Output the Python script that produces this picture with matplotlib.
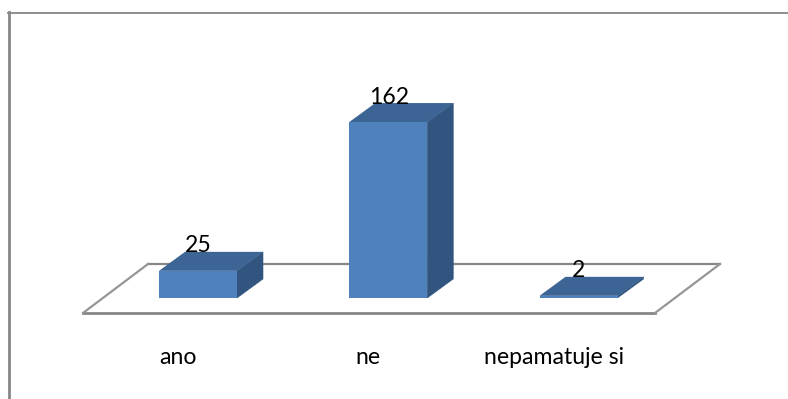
import numpy as np
import matplotlib
matplotlib.use("Agg")
import matplotlib.pyplot as plt
from matplotlib.patches import Polygon

categories = ["ano", "ne", "nepamatuje si"]
values = [25, 162, 2]

W, H = 788, 399
front_col = '#4f81bd'
top_col = '#3c6494'
side_col = '#31557f'
grey = '#868686'

# bar depth and floor sizes, in data units
px_x = 190.25   # pixels per category
px_y = 1.086    # pixels per count
depth_x = 26 / px_x
depth_y = 19 / px_y
bar_w = 78 / px_x

plt.rcParams['font.family'] = ['Lato', 'DejaVu Sans']

fig = plt.figure(figsize=(W / 100, H / 100), dpi=100)
ax = fig.add_axes([0, 0, 1, 1])
ax.set_xlim(-198 / px_x, (W - 198) / px_x)
ax.set_ylim(-(H - 298) / px_y, 298 / px_y)
ax.axis('off')

# chart frame, open on the right and at the bottom
fig.add_artist(plt.Line2D([9 / W, 9 / W], [0, 1 - 12 / H], color=grey, lw=2.0))
fig.add_artist(plt.Line2D([8 / W, 1], [1 - 12.8 / H, 1 - 12.8 / H], color=grey, lw=1.3))

# floor of the 3d plot
floor_front = -15 / px_y
floor_back = 34 / px_y
x_fl, x_fr = (83 - 198) / px_x, (655 - 198) / px_x
x_bl, x_br = (148 - 198) / px_x, (720 - 198) / px_x
ax.plot([x_bl, x_br], [floor_back, floor_back], color=grey, lw=1.6, zorder=1)
ax.plot([x_fl, x_fr], [floor_front, floor_front], color=grey, lw=2.0, zorder=1)
ax.plot([x_fl, x_bl], [floor_front, floor_back], color='#969696', lw=1.6, zorder=1)
ax.plot([x_fr, x_br], [floor_front, floor_back], color='#969696', lw=1.6, zorder=1)

# category labels are not centred under the bars
label_shift = [-20, -20, -25]

for i, v in enumerate(values):
    x0 = i - bar_w / 2
    x1 = i + bar_w / 2
    ax.add_patch(Polygon([(x1, 0), (x1 + depth_x, depth_y), (x1 + depth_x, v + depth_y), (x1, v)],
                         fc=side_col, ec=side_col, lw=0.4, zorder=3))
    ax.add_patch(Polygon([(x0, v), (x1, v), (x1 + depth_x, v + depth_y), (x0 + depth_x, v + depth_y)],
                         fc=top_col, ec='none', zorder=3))
    ax.add_patch(Polygon([(x0, 0), (x1, 0), (x1, v), (x0, v)], fc=front_col, ec='none', zorder=3))
    # value label sits on the back edge of the top face
    ax.text(i + 0.5 / px_x, v + depth_y + 6 / px_y, str(v), ha='center', va='center',
            fontsize=16.6, color='black', zorder=4)
    ax.text(i + label_shift[i] / px_x, -60 / px_y, categories[i],
            ha='center', va='center', fontsize=16.6, color='black')

fig.savefig("out.png", dpi=100)
